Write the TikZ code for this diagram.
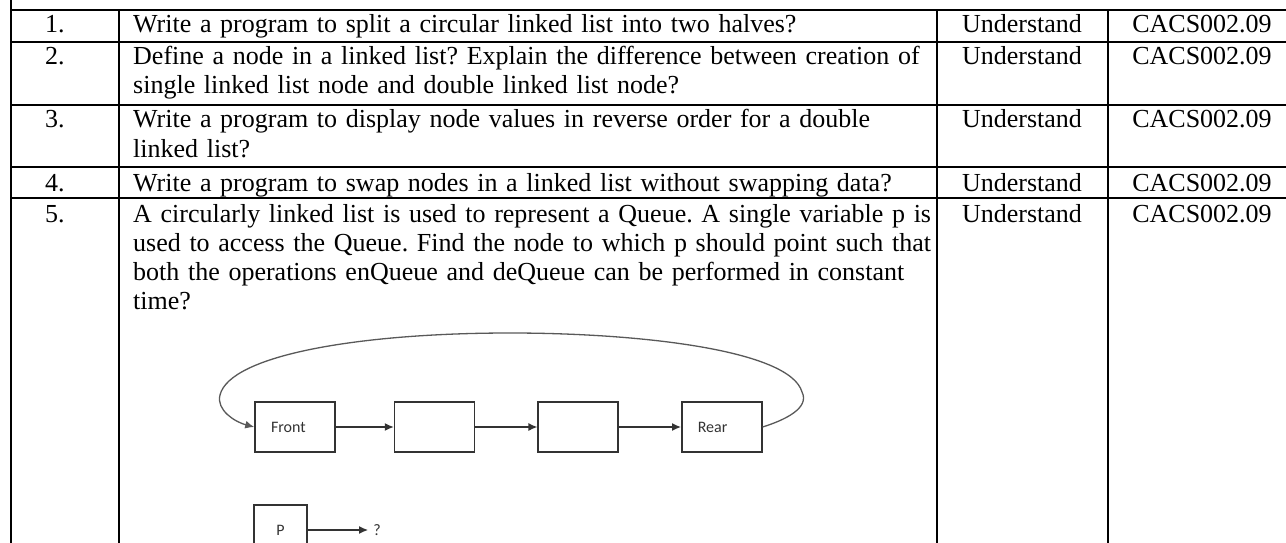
\documentclass[tikz,border=0pt]{standalone}
\usepackage{fontspec}
\setmainfont{Liberation Serif}
\newfontfamily\calfont{Carlito}
\usetikzlibrary{positioning,arrows.meta}
\frenchspacing
\newcommand{\jline}[1]{\makebox[788pt][s]{#1}}
\begin{document}
\begin{tikzpicture}[x=1pt,y=-1pt,
  every node/.style={inner sep=0pt},
  txt/.style={anchor=base west,text width=788pt,align=left,font=\fontsize{26}{29}\selectfont},
  num/.style={anchor=base west,font=\fontsize{26}{29}\selectfont},
  mid/.style={anchor=base,font=\fontsize{26}{29}\selectfont},
  rule/.style={line width=2pt},
  qbox/.style={draw=black!80,line width=1.6pt,minimum width=80pt,minimum height=50pt,
    font=\calfont\fontsize{16}{18}\selectfont,text=black!80},
  lbl/.style={text width=48pt,inner xsep=16pt,align=left},
  link/.style={draw=black!80,line width=1.3pt,-{Latex[length=9pt,width=8pt]}}]
\useasboundingbox (0,0) rectangle (1286,543);
\clip (0,0) rectangle (1286,543);
% table rules
\foreach \y in {10,42,105,167,198} \draw[rule] (11,\y) -- (1300,\y);
\draw[rule] (11,-5) -- (11,560);
\foreach \x in {119,937,1108} \draw[rule] (\x,10) -- (\x,560);
% number, level and outcome columns
\foreach \n/\y in {1/33,2/65,3/128,4/191,5/222}{
  \node[num] (n\n) at (45,\y) {\n.};
  \node[mid] (u\n) at (1022,\y) {Understand};
  \node[mid] (c\n) at (1202,\y) {CACS002.09};
}
% questions
\node[txt] (q1) at (133,33) {Write a program to split a circular linked list into two halves?};
\node[txt] (q2) at (133,65) {\jline{Define a node in a linked list? Explain the difference between creation of}\\
  single linked list node and double linked list node?};
\node[txt] (q3) at (133,128) {\jline{Write a program to display node values in reverse order for a double}\\
  linked list?};
\node[txt] (q4) at (133,191) {Write a program to swap nodes in a linked list without swapping data?};
\node[txt] (q5) at (133,222) {\jline{A circularly linked list is used to represent a Queue. A single variable p is}\\
  \jline{used to access the Queue. Find the node to which p should point such that}\\
  \jline{both the operations enQueue and deQueue can be performed in constant}\\
  time?};
% queue figure
\node[qbox,lbl] (front) at (295,427) {Front};
\node[qbox,right=58pt of front] (mid1) {};
\node[qbox,right=62pt of mid1] (mid2) {};
\node[qbox,lbl,right=62pt of mid2] (rear) {Rear};
\node[qbox,minimum width=53pt] (p) at (280.5,530) {P};
\node[font=\calfont\fontsize{16}{18}\selectfont,text=black!80,inner sep=2pt] (qm) at (377,530) {?};
\draw[link] (front) -- (mid1);
\draw[link] (mid1) -- (mid2);
\draw[link] (mid2) -- (rear);
\draw[link,shorten >=3pt] (p) -- (qm);
\draw[link,draw=black!65] (rear.east) .. controls (785,420) and (810,408) .. (802,392)
  .. controls (790,350) and (640,333) .. (510,333)
  .. controls (360,333) and (230,355) .. (220,395)
  .. controls (216,410) and (235,422) .. (front.west);
\end{tikzpicture}
\end{document}
